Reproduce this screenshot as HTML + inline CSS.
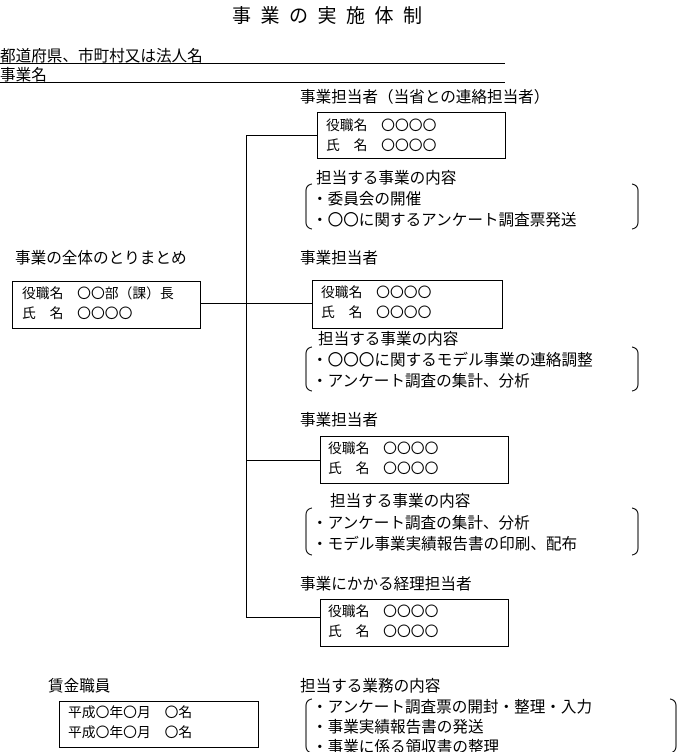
<!DOCTYPE html>
<html><head><meta charset="utf-8"><style>
html,body{margin:0;padding:0;background:#fff;}
svg{display:block;}
text{font-family:"Liberation Sans","Noto Sans CJK JP",sans-serif;fill:#000;}
.t{font-size:15.6px;}
.b{font-size:13.8px;}
</style></head><body>
<svg width="680" height="752" viewBox="0 0 680 752" xmlns="http://www.w3.org/2000/svg">
<g fill="none" stroke="#000" stroke-width="1">
<line x1="0" y1="63.5" x2="505" y2="63.5"/>
<line x1="0" y1="82.5" x2="505" y2="82.5"/>
<rect x="317.5" y="112.5" width="188" height="46"/>
<rect x="12.5" y="281.5" width="188" height="47"/>
<rect x="312.5" y="280.5" width="190" height="48"/>
<rect x="320.5" y="436.5" width="188" height="47"/>
<rect x="320.5" y="599.5" width="188" height="47"/>
<rect x="59.5" y="701.5" width="199" height="46"/>
<polyline points="317,135.5 246.5,135.5 246.5,617.5 320,617.5"/>
<line x1="200" y1="303.5" x2="312" y2="303.5"/>
<line x1="246" y1="460.5" x2="320" y2="460.5"/>
<path d="M312,184 Q306,185 306,191 L306,222 Q306,228 312,229"/>
<path d="M632,184 Q638,185 638,191 L638,222 Q638,228 632,229"/>
<path d="M312,347 Q306,348 306,354 L306,384 Q306,390 312,391"/>
<path d="M632,347 Q638,348 638,354 L638,384 Q638,390 632,391"/>
<path d="M312,508 Q306,509 306,515 L306,548 Q306,554 312,555"/>
<path d="M632,508 Q638,509 638,515 L638,548 Q638,554 632,555"/>
<path d="M312,699 Q306,700 306,706 L306,746 Q306,752 312,753"/>
<path d="M670,699 Q676,700 676,706 L676,746 Q676,752 670,753"/>
</g>
<text x="232" y="22" style="font-size:19px;letter-spacing:9.5px">事業の実施体制</text>
<text class="t" x="0" y="61">都道府県、市町村又は法人名</text>
<text class="t" x="0" y="80">事業名</text>
<text class="t" x="300" y="102">事業担当者（当省との連絡担当者）</text>
<text class="b" x="326" y="130">役職名　〇〇〇〇</text>
<text class="b" x="326" y="150">氏　名　〇〇〇〇</text>
<text class="t" x="316" y="183">担当する事業の内容</text>
<text class="t" x="312" y="204">・委員会の開催</text>
<text class="t" x="312" y="225">・〇〇に関するアンケート調査票発送</text>
<text class="t" x="15" y="263">事業の全体のとりまとめ</text>
<text class="b" x="22" y="298">役職名　〇〇部（課）長</text>
<text class="b" x="22" y="318">氏　名　〇〇〇〇</text>
<text class="t" x="300" y="263">事業担当者</text>
<text class="b" x="321" y="297">役職名　〇〇〇〇</text>
<text class="b" x="321" y="317">氏　名　〇〇〇〇</text>
<text class="t" x="318" y="344">担当する事業の内容</text>
<text class="t" x="312" y="365">・〇〇〇に関するモデル事業の連絡調整</text>
<text class="t" x="312" y="386">・アンケート調査の集計、分析</text>
<text class="t" x="300" y="425">事業担当者</text>
<text class="b" x="328" y="453">役職名　〇〇〇〇</text>
<text class="b" x="328" y="473">氏　名　〇〇〇〇</text>
<text class="t" x="330" y="506">担当する事業の内容</text>
<text class="t" x="312" y="528">・アンケート調査の集計、分析</text>
<text class="t" x="312" y="549">・モデル事業実績報告書の印刷、配布</text>
<text class="t" x="300" y="589">事業にかかる経理担当者</text>
<text class="b" x="328" y="616">役職名　〇〇〇〇</text>
<text class="b" x="328" y="636">氏　名　〇〇〇〇</text>
<text class="t" x="48" y="691">賃金職員</text>
<text class="b" x="68" y="717">平成〇年〇月　〇名</text>
<text class="b" x="68" y="737">平成〇年〇月　〇名</text>
<text class="t" x="300" y="691">担当する業務の内容</text>
<text class="t" x="312" y="712">・アンケート調査票の開封・整理・入力</text>
<text class="t" x="312" y="732">・事業実績報告書の発送</text>
<text class="t" x="312" y="752">・事業に係る領収書の整理</text>
</svg>
</body></html>
